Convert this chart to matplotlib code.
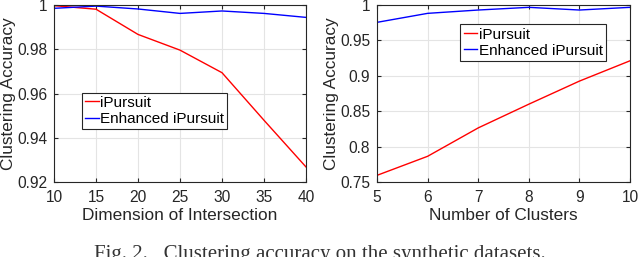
import numpy as np
from matplotlib import pyplot as plt

# left panel: dimension of intersection
dims = [10, 15, 20, 25, 30, 35, 40]
ipursuit_dim = [0.9997, 0.9981, 0.9867, 0.9796, 0.9694, 0.9479, 0.9268]
enhanced_dim = [0.9985, 0.9995, 0.9982, 0.9962, 0.9973, 0.9962, 0.9944]

# right panel: number of clusters
clusters = [5, 6, 7, 8, 9, 10]
ipursuit_cl = [0.7594, 0.7863, 0.8264, 0.8599, 0.8925, 0.9212]
enhanced_cl = [0.9755, 0.9882, 0.9929, 0.9967, 0.9929, 0.9967]

plt.rcParams['font.family'] = ['Liberation Sans', 'DejaVu Sans']
dark = '#262626'

fig = plt.figure(figsize=(6.4, 2.57), dpi=100)
ax1 = fig.add_axes([54 / 640, 1 - 182 / 257, 252 / 640, 177 / 257])
ax2 = fig.add_axes([377 / 640, 1 - 182 / 257, 253 / 640, 177 / 257])


def style(ax):
    ax.grid(True, color='#e4e4e4', lw=0.8)
    ax.set_axisbelow(True)
    for s in ax.spines.values():
        s.set_color(dark)
        s.set_linewidth(0.8)
    ax.tick_params(direction='in', top=True, right=True, colors=dark,
                   labelsize=11.2, length=3)
    ax.tick_params(axis='x', pad=6)
    ax.tick_params(axis='y', pad=5)
    for lab in ax.get_xticklabels() + ax.get_yticklabels():
        lab.set_color(dark)


ax1.plot(dims, ipursuit_dim, color='red', lw=1, label='iPursuit')
ax1.plot(dims, enhanced_dim, color='blue', lw=1, label='Enhanced iPursuit')
ax1.set_xlim(10, 40)
ax1.set_ylim(0.92, 1.0)
ax1.set_xticks(dims)
ax1.set_yticks([0.92, 0.94, 0.96, 0.98, 1.0])
ax1.set_yticklabels(['0.92', '0.94', '0.96', '0.98', '1'])
ax1.set_xlabel('Dimension of Intersection', fontsize=12.4, color=dark, labelpad=2)
ax1.set_ylabel('Clustering Accuracy', fontsize=12.4, color=dark, labelpad=1)
style(ax1)
leg1 = ax1.legend(loc='upper left', bbox_to_anchor=(0.11, 0.505),
                  fontsize=11, handlelength=0.9, handletextpad=0.1,
                  borderpad=0.2, labelspacing=0.15, borderaxespad=0,
                  fancybox=False, framealpha=1, edgecolor=dark)
leg1.get_frame().set_linewidth(0.8)

ax2.plot(clusters, ipursuit_cl, color='red', lw=1, label='iPursuit')
ax2.plot(clusters, enhanced_cl, color='blue', lw=1, label='Enhanced iPursuit')
ax2.set_xlim(5, 10)
ax2.set_ylim(0.75, 1.0)
ax2.set_xticks(clusters)
ax2.set_yticks([0.75, 0.8, 0.85, 0.9, 0.95, 1.0])
ax2.set_yticklabels(['0.75', '0.8', '0.85', '0.9', '0.95', '1'])
ax2.set_xlabel('Number of Clusters', fontsize=12.4, color=dark, labelpad=2)
ax2.set_ylabel('Clustering Accuracy', fontsize=12.4, color=dark, labelpad=1)
style(ax2)
leg2 = ax2.legend(loc='upper left', bbox_to_anchor=(0.33, 0.89),
                  fontsize=11, handlelength=0.9, handletextpad=0.1,
                  borderpad=0.2, labelspacing=0.15, borderaxespad=0,
                  fancybox=False, framealpha=1, edgecolor=dark)
leg2.get_frame().set_linewidth(0.8)

fig.text(0.5, 1 - 245 / 257, 'Fig. 2.   Clustering accuracy on the synthetic datasets.',
         ha='center', va='top', fontsize=15, family=['Liberation Serif'],
         color='#333333')

fig.savefig('out.png', dpi=100)
